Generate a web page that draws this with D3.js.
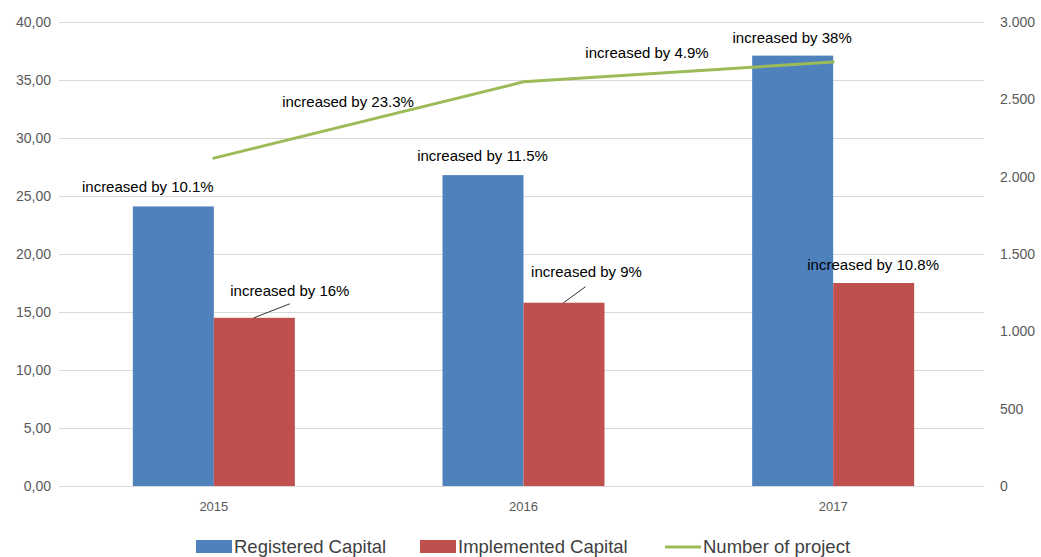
<!DOCTYPE html>
<html><head><meta charset="utf-8">
<script src="https://d3js.org/d3.v7.min.js"></script>
<style>body{margin:0;background:#fff}svg{display:block}text{font-family:"Liberation Sans",Arial,sans-serif}</style>
</head><body><svg id="c" width="1041" height="557"></svg>
<script>
const years = ["2015","2016","2017"];
const registered = [24.1, 26.8, 37.1];
const implemented = [14.5, 15.8, 17.5];
const projects = [2120, 2613, 2741];
const leftTicks = [0,5,10,15,20,25,30,35,40];
const rightTicks = [0,500,1000,1500,2000,2500,3000];
const regLabels = ["increased by 10.1%","increased by 11.5%","increased by 38%"];
const impLabels = ["increased by 16%","increased by 9%","increased by 10.8%"];
const projLabels = ["increased by 23.3%","increased by 4.9%"];
const legendNames = ["Registered Capital","Implemented Capital","Number of project"];

const svg = d3.select("#c");
const L = 59, R = 988, T = 22, B = 486;
const x = d3.scaleBand().domain(years).range([L,R]);
const yL = d3.scaleLinear().domain([0,40]).range([B,T]);
const yR = d3.scaleLinear().domain([0,3000]).range([B,T]);
const bw = 81;
const col = {reg:"#4f81bd", imp:"#c0504d", line:"#9bbb59"};
const fmtL = v => d3.format(".2f")(v).replace(".",",");
const fmtR = v => d3.format(",")(v).replace(/,/g,".");

svg.append("g").selectAll("line").data(leftTicks).join("line")
  .attr("x1",L).attr("x2",R-4).attr("y1",d=>Math.round(yL(d))+0.5).attr("y2",d=>Math.round(yL(d))+0.5)
  .attr("stroke","#d9d9d9").attr("stroke-width",1);

const gl = svg.append("g").attr("transform",`translate(${L},0)`)
  .call(d3.axisLeft(yL).tickValues(leftTicks).tickFormat(fmtL).tickSize(0).tickPadding(8));
gl.select(".domain").remove();
gl.selectAll("text").attr("fill","#595959").style("font-size","14px").style("font-family","Liberation Sans, Arial");

const gr = svg.append("g").attr("transform",`translate(${R+4},0)`)
  .call(d3.axisRight(yR).tickValues(rightTicks).tickFormat(fmtR).tickSize(0).tickPadding(8));
gr.select(".domain").remove();
gr.selectAll("text").attr("fill","#595959").style("font-size","14px").style("font-family","Liberation Sans, Arial");

const gx = svg.append("g").attr("transform",`translate(0,${B})`)
  .call(d3.axisBottom(x).tickSize(0).tickPadding(16));
gx.select(".domain").remove();
gx.selectAll("text").attr("fill","#595959").style("font-size","13px").style("font-family","Liberation Sans, Arial");

const cx = d => x(d) + x.bandwidth()/2;

svg.append("g").selectAll("rect").data(years).join("rect")
  .attr("x",d=>cx(d)-bw).attr("width",bw)
  .attr("y",(d,i)=>yL(registered[i])).attr("height",(d,i)=>B-yL(registered[i]))
  .attr("fill",col.reg);
svg.append("g").selectAll("rect").data(years).join("rect")
  .attr("x",d=>cx(d)).attr("width",bw)
  .attr("y",(d,i)=>yL(implemented[i])).attr("height",(d,i)=>B-yL(implemented[i]))
  .attr("fill",col.imp);

const line = d3.line().x((d,i)=>cx(years[i])).y(d=>yR(d));
svg.append("path").datum(projects).attr("d",line).attr("fill","none")
  .attr("stroke",col.line).attr("stroke-width",3).attr("stroke-linecap","round");

const lab = svg.append("g").style("font-size","15px").attr("fill","#000");
const regOff = [[-66,-14],[-41,-14],[-41,-13]];
regLabels.forEach((t,i)=>{
  lab.append("text").attr("x",cx(years[i])+regOff[i][0]).attr("y",yL(registered[i])+regOff[i][1])
    .attr("text-anchor","middle").text(t);
});
const impOff = [[76,-22],[63,-26],[40,-13]];
impLabels.forEach((t,i)=>{
  lab.append("text").attr("x",cx(years[i])+impOff[i][0]).attr("y",yL(implemented[i])+impOff[i][1])
    .attr("text-anchor","middle").text(t);
});
[[0,[40,0],[76,-14]],[1,[40,0],[62,-16]]].forEach(([i,a,b])=>{
  svg.append("line").attr("x1",cx(years[i])+a[0]).attr("y1",yL(implemented[i])+a[1])
    .attr("x2",cx(years[i])+b[0]).attr("y2",yL(implemented[i])+b[1])
    .attr("stroke","#000").attr("stroke-width",0.8);
});
const projPos = [[348,107],[647,58]];
projLabels.forEach((t,i)=>{
  lab.append("text").attr("x",projPos[i][0]).attr("y",projPos[i][1]).attr("text-anchor","middle").text(t);
});

const lg = svg.append("g").attr("transform","translate(0,547)");
const items = [{x:196,t:"rect",c:col.reg},{x:420,t:"rect",c:col.imp},{x:665,t:"line",c:col.line}];
items.forEach((it,i)=>{
  if(it.t==="rect") lg.append("rect").attr("x",it.x).attr("y",-7).attr("width",36).attr("height",13).attr("fill",it.c);
  else lg.append("line").attr("x1",it.x).attr("x2",it.x+36).attr("y1",0).attr("y2",0).attr("stroke",it.c).attr("stroke-width",3);
  lg.append("text").attr("x",it.x+38).attr("y",6).attr("fill","#404040").style("font-size","18.5px").text(legendNames[i]);
});
</script></body></html>
